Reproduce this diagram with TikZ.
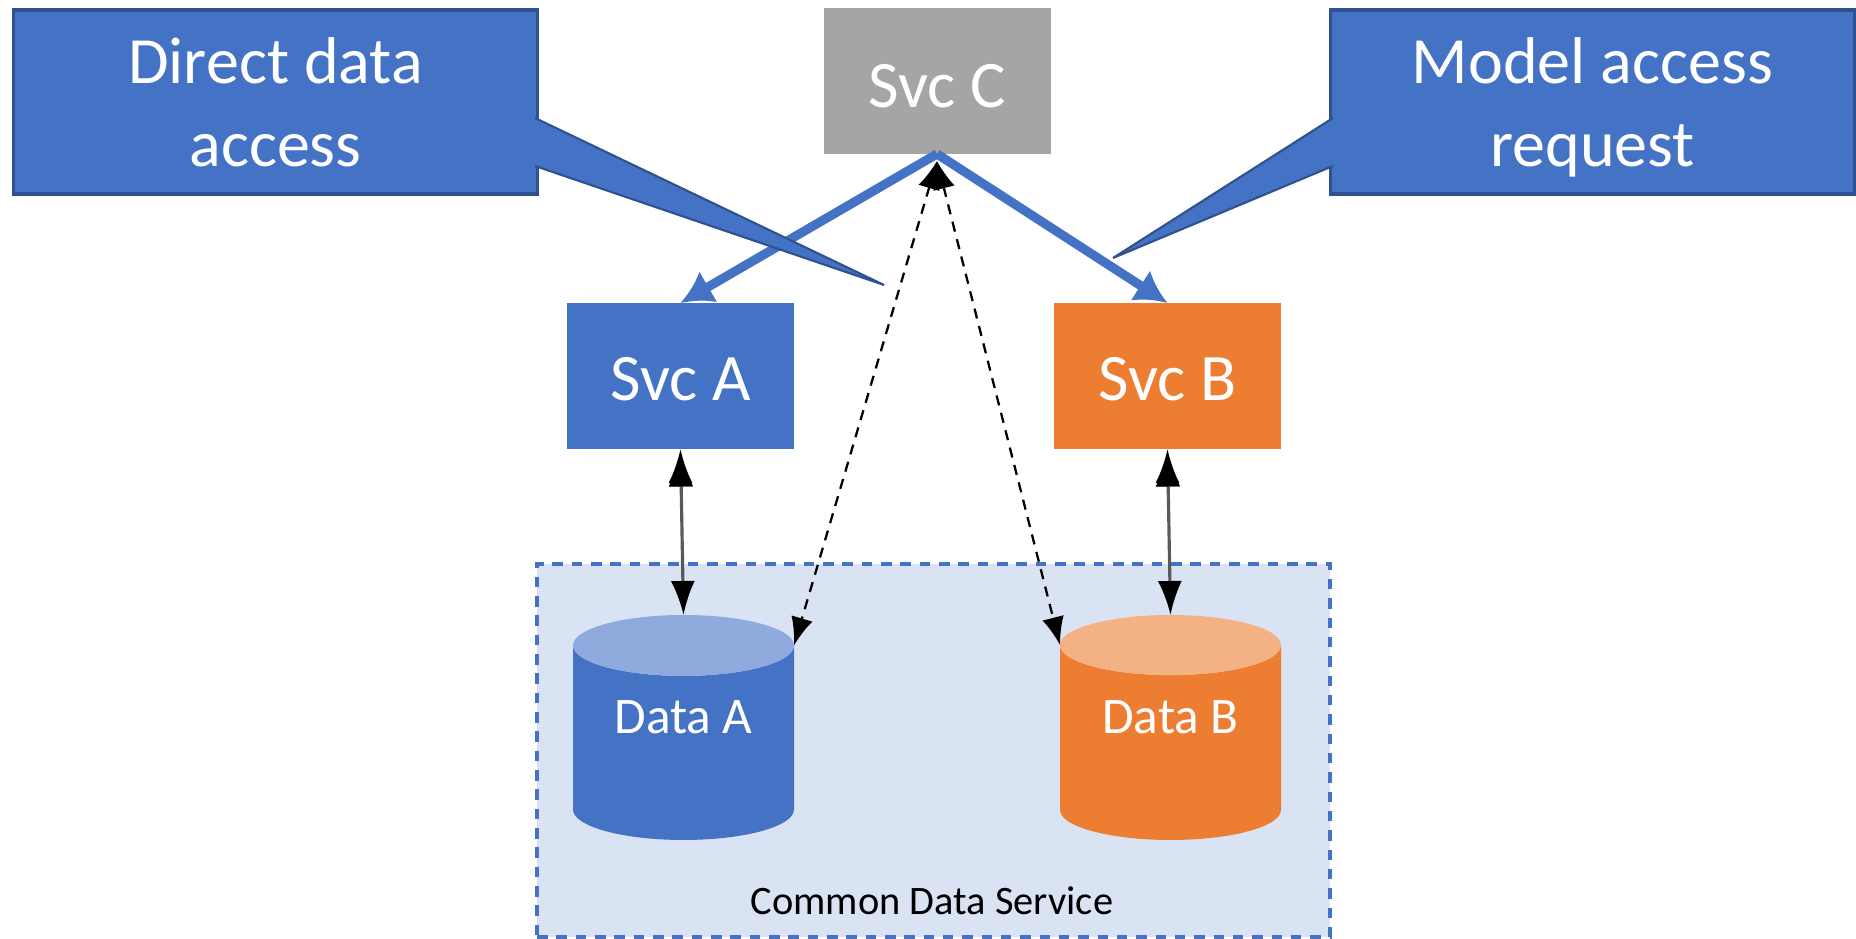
\documentclass[tikz,border=0pt]{standalone}
\usepackage{fontspec}
\setmainfont{Carlito}
\usetikzlibrary{arrows.meta,shapes.geometric}
\definecolor{cds_blue}{HTML}{4472C4}
\definecolor{cds_dark}{HTML}{2F528F}
\definecolor{cds_orange}{HTML}{ED7D31}
\definecolor{cds_gray}{HTML}{A5A5A5}
\definecolor{cds_pale}{HTML}{DAE3F3}
\definecolor{cds_bluetop}{HTML}{8FAADC}
\definecolor{cds_orangetop}{HTML}{F4B183}
\newcommand{\datatext}[1]{\smash{\raisebox{3.4pt}{#1}}}
\begin{document}
\begin{tikzpicture}[
   base_node_style/.style={inner sep=0pt, outer sep=0pt, text=white},
   svc_style/.style={base_node_style, rectangle, minimum width=2.27cm, minimum height=1.46cm, text depth=0pt, text height=13.9pt, font=\fontsize{18.9}{22}\selectfont},
   call_style/.style={base_node_style, rectangle, fill=cds_blue, draw=cds_dark, line width=1pt, minimum width=5.24cm, minimum height=1.84cm, align=center, text depth=0pt, font=\fontsize{18.8}{23.6}\selectfont},
   tail_style/.style={fill=cds_blue, draw=cds_dark, line width=0.6pt},
   data_style/.style={base_node_style, cylinder, shape border rotate=90, shape aspect=0.43, cylinder uses custom fill, inner xsep=0.5pt, minimum width=2.21cm, minimum height=2.25cm, anchor=shape center, font=\fontsize{14.6}{17}\selectfont},
   call_edge_style/.style={-{Latex[length=0.32cm,width=0.36cm]}, color=cds_blue, line width=2.6pt},
   link_edge_style/.style={{Latex[length=0.34cm,width=0.24cm,color=black]}-{Latex[length=0.34cm,width=0.24cm,color=black]}, draw=black!65, line width=0.9pt, shorten <=1pt},
   dash_edge_style/.style={{Latex[length=0.28cm,width=0.22cm]}-{Latex[length=0.28cm,width=0.22cm]}, color=black, line width=0.65pt, dash pattern=on 2.9pt off 2.2pt}]

    \useasboundingbox (0,0) rectangle (18.56,9.39);

    \node[base_node_style, fill=cds_pale, draw=cds_blue, line width=1pt, dash pattern=on 3pt off 2.5pt, minimum width=7.93cm, minimum height=3.73cm] (cds) at (9.335,1.885) {};
    \node[base_node_style, text=black, font=\fontsize{11.5}{13}\selectfont] (cdslabel) at (9.32,0.38) {Common Data Service};

    \node[call_style] (direct) at (2.755,8.37) {Direct data\\access};
    \node[call_style] (model) at (15.925,8.37) {Model access\\request};

    \node[svc_style, fill=cds_gray, text height=15.2pt] (svcC) at (9.37,8.58) {Svc C};
    \node[svc_style, fill=cds_blue] (svcA) at (6.805,5.63) {Svc A};
    \node[svc_style, fill=cds_orange] (svcB) at (11.675,5.63) {Svc B};

    \node[data_style, cylinder body fill=cds_blue, cylinder end fill=cds_bluetop] (dataA) at (6.835,2.115) {\datatext{Data A}};
    \node[data_style, cylinder body fill=cds_orange, cylinder end fill=cds_orangetop] (dataB) at (11.705,2.115) {\datatext{Data B}};

    \coordinate (hub) at (9.37,7.78);
    \coordinate (directtip) at (8.84,6.54);
    \coordinate (modeltip) at (11.13,6.81);

    \path [call_edge_style](svcC.south) edge (svcA.north);
    \path [call_edge_style](svcC.south) edge (svcB.north);
    \path [link_edge_style](svcA.south) edge (dataA.north);
    \path [link_edge_style](svcB.south) edge (dataB.north);
    \path [dash_edge_style](hub) edge (dataA.after top);
    \path [dash_edge_style](hub) edge (dataB.before top);

    \filldraw [tail_style] (5.35,8.21) -- (directtip) -- (5.35,7.73);
    \filldraw [tail_style] (13.33,8.21) -- (modeltip) -- (13.33,7.73);
\end{tikzpicture}
\end{document}
